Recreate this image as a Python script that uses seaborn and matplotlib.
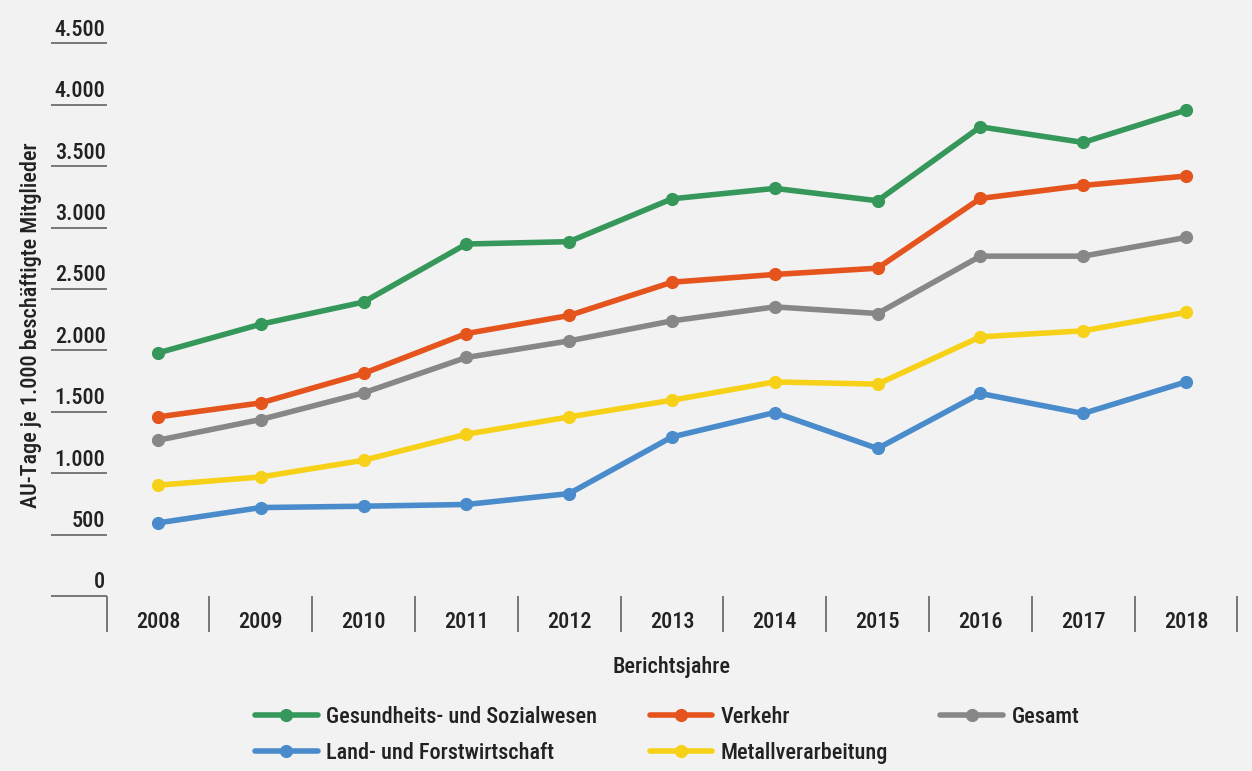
import numpy as np
import pandas as pd
import seaborn as sns
import matplotlib.pyplot as plt
from matplotlib.transforms import ScaledTranslation

# Jahresreihen: AU-Tage je 1.000 beschäftigte Mitglieder
jahre = ["2008", "2009", "2010", "2011", "2012", "2013",
         "2014", "2015", "2016", "2017", "2018"]
gesundheit = [1979, 2213, 2393, 2866, 2885, 3234, 3319, 3218, 3820, 3693, 3956]
land_forst = [595, 720, 731, 745, 834, 1295, 1494, 1201, 1649, 1486, 1743]
verkehr = [1458, 1572, 1812, 2137, 2284, 2555, 2618, 2669, 3237, 3343, 3419]
metall = [902, 969, 1105, 1317, 1458, 1594, 1743, 1725, 2110, 2159, 2309]
gesamt = [1268, 1437, 1654, 1942, 2077, 2240, 2354, 2300, 2767, 2767, 2919]

branchen = ["Gesundheits- und Sozialwesen", "Land- und Forstwirtschaft",
            "Verkehr", "Metallverarbeitung", "Gesamt"]
werte = [gesundheit, land_forst, verkehr, metall, gesamt]
farben = ["#35975a", "#4a8ccb", "#e4541c", "#f7d117", "#878787"]

y_ticks = [0, 500, 1000, 1500, 2000, 2500, 3000, 3500, 4000, 4500]
y_tick_labels = [f"{v:,}".replace(",", ".") for v in y_ticks]

df = pd.DataFrame({
    "Jahr": jahre * len(branchen),
    "Wert": np.concatenate(werte),
    "Branche": np.repeat(branchen, len(jahre)),
})

bg = "#f2f2f2"
txt = "#222222"
sns.set_theme(style="white", rc={"figure.facecolor": bg, "axes.facecolor": bg})
plt.rcParams["font.family"] = ["Roboto Condensed", "Roboto", "DejaVu Sans"]
plt.rcParams["font.weight"] = "medium"
plt.rcParams["axes.labelweight"] = "medium"

fs = 16

fig = plt.figure(figsize=(12.52, 7.71), dpi=100)
ax = fig.add_axes([0.0851, 0.2270, 0.9032, 0.7168])

sns.lineplot(data=df, x="Jahr", y="Wert", hue="Branche", hue_order=branchen,
             palette=farben, marker="o", markersize=9.5, markeredgewidth=0,
             linewidth=4.0, ax=ax, sort=False)

for s in ax.spines.values():
    s.set_visible(False)

ax.set_xlim(-0.5, len(jahre) - 0.5)
ax.set_ylim(0, 4500)

# y axis: long grey underline ticks with the label sitting on top of them
ax.set_yticks(y_ticks)
ax.set_yticklabels(y_tick_labels, fontsize=fs, color=txt)
ax.tick_params(axis="y", which="major", left=True, direction="out",
               length=40, width=1.3, color="#6e6e6e", pad=0)
shift = ScaledTranslation(0.545, 0.16, fig.dpi_scale_trans)
for lab in ax.get_yticklabels():
    lab.set_transform(lab.get_transform() + shift)

# x axis: year labels between vertical separator ticks
ax.set_xticks(range(len(jahre)))
ax.set_xticklabels(jahre, fontsize=fs, color=txt)
ax.set_xticks(np.arange(-0.5, len(jahre)), minor=True)
ax.tick_params(axis="x", which="major", bottom=True, length=0, pad=11)
ax.tick_params(axis="x", which="minor", bottom=True, direction="out",
               length=26, width=1.3, color="#6e6e6e")

ax.set_xlabel("Berichtsjahre", fontsize=fs, color=txt, labelpad=14,
              fontweight="medium")
ax.set_ylabel("AU-Tage je 1.000 beschäftigte Mitglieder", fontsize=fs,
              color=txt, fontweight="medium")
ax.yaxis.set_label_coords(-0.057, 0.49)

ax.get_legend().remove()
handles, labels = ax.get_legend_handles_labels()
fig.legend(handles, labels, loc="center", bbox_to_anchor=(0.533, 1 - 735 / 771),
           ncol=3, frameon=False, fontsize=fs, handlelength=2.8,
           handletextpad=0.4, columnspacing=2.35, labelspacing=0.65,
           borderpad=0, labelcolor=txt)

fig.savefig("out.png", dpi=100, facecolor=bg)
